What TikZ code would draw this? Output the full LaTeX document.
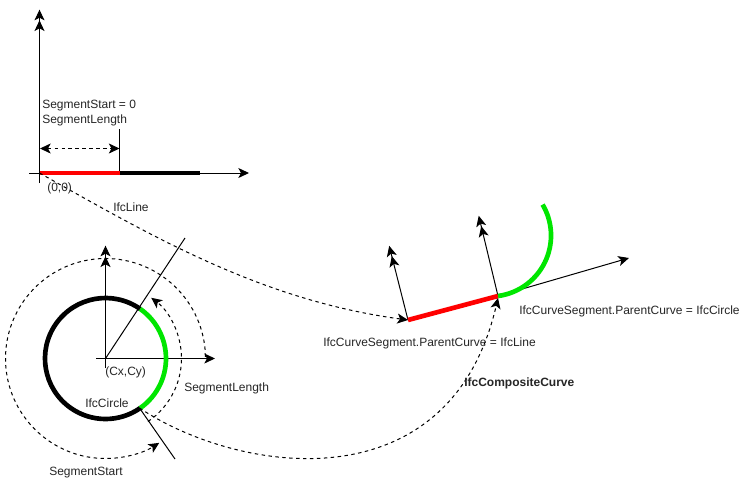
\documentclass[tikz,border=0pt]{standalone}
\usepackage{fontspec}
\setmainfont{Liberation Sans}
\usetikzlibrary{arrows.meta}
\definecolor{lime}{RGB}{0,230,0}
\tikzset{
  ln/.style={draw=black,line width=0.75pt},
  ax/.style={ln,-{Stealth[length=8pt,width=7.5pt,inset=2pt]}},
  axd/.style={ln,-{Stealth[length=8pt,width=7.5pt,inset=2pt]Stealth[length=8pt,width=7.5pt,inset=2pt,sep=-2.5pt]}},
  dsh/.style={ln,dash pattern=on 2.6pt off 2.6pt,-{Stealth[length=8pt,width=7.5pt,inset=2pt]}},
  dshb/.style={dsh,{Stealth[length=8pt,width=7.5pt,inset=2pt]}-{Stealth[length=8pt,width=7.5pt,inset=2pt]}},
  seg/.style={line width=3.5pt},
  lbl/.style={inner sep=0pt,anchor=west,font=\fontsize{9}{11}\selectfont,text=black!85},
}
\begin{document}
\begin{tikzpicture}[x=0.75pt,y=-0.75pt]
\useasboundingbox[fill=white] (0,0) rectangle (754,494);
% top axes
\coordinate (o) at (39.5,173);
\coordinate (yTop) at (39.5,13);
\coordinate (yLow) at (39.5,183);
\coordinate (xL) at (29,173);
\coordinate (xR) at (249,173);
\coordinate (m) at (119.5,173);
\coordinate (e) at (199.5,173);
\coordinate (mT) at (119.5,129);
\coordinate (dA) at (40,148.5);
\coordinate (dB) at (119.5,148.5);
\draw[axd] (yLow) -- (yTop);
\draw[ax] (xL) -- (xR);
\draw[ln] (m) -- (mT);
\draw[seg,black] (m) -- (e);
\draw[seg,red] (o) -- (m);
\draw[dshb] (dA) -- (dB);
% circle
\coordinate (c) at (105.5,358.5);
\coordinate (cB) at (105.5,368);
\coordinate (cT) at (105.5,249);
\coordinate (cL) at (96,358.5);
\coordinate (cR) at (215,358.5);
\coordinate (r1) at (185,238);
\coordinate (p1) at (139.5,408);
\coordinate (r2) at (175,459);
\draw[axd] (cB) -- (cT);
\draw[ax] (cL) -- (cR);
\draw[ln] (c) -- (r1);
\draw[ln] (p1) -- (r2);
\draw[seg,black] (c) ++(-55:60.5) arc[start angle=-55,end angle=-305,radius=60.5];
\draw[seg,lime] (c) ++(55:60.5) arc[start angle=55,end angle=-55,radius=60.5];
\draw[dsh] (c) ++(-1:100) arc[start angle=-1,end angle=-302.5,radius=100];
\draw[dsh] (c) ++(56:76) arc[start angle=56,end angle=-53,radius=76];
% composite
\coordinate (a) at (408,320);
\coordinate (b) at (498,296);
\coordinate (aT) at (390,249);
\coordinate (bT) at (479.5,219);
\coordinate (bR) at (629,258);
\draw[axd] (a) -- (aT);
\draw[axd] (b) -- (bT);
\draw[ax] (b) -- (bR);
\draw[seg,red] (a) -- (b);
\draw[seg,lime] (b) arc[start angle=82.5,end angle=-30.5,radius=61];
% links
\draw[dsh] (o) .. controls (150,235) and (260,300) .. (a);
\draw[dsh] (p1) .. controls (240,475) and (450,505) .. (498,298);
% labels
\node[lbl] (t1) at (42,106) {SegmentStart = 0};
\node[lbl] (t2) at (42,120) {SegmentLength};
\node[lbl] (t3) at (47,188) {(0,0)};
\node[lbl] (t4) at (113,207) {IfcLine};
\node[lbl] (t5) at (105,372) {(Cx,Cy)};
\node[lbl] (t6) at (184,388) {SegmentLength};
\node[lbl] (t7) at (85,403) {IfcCircle};
\node[lbl] (t8) at (49,473) {SegmentStart};
\node[lbl] (t9) at (323,343) {IfcCurveSegment.ParentCurve = IfcLine};
\node[lbl] (t10) at (519,311) {IfcCurveSegment.ParentCurve = IfcCircle};
\node[lbl,font=\fontsize{9}{11}\selectfont\bfseries] (t11) at (464,383) {IfcCompositeCurve};
\end{tikzpicture}
\end{document}
